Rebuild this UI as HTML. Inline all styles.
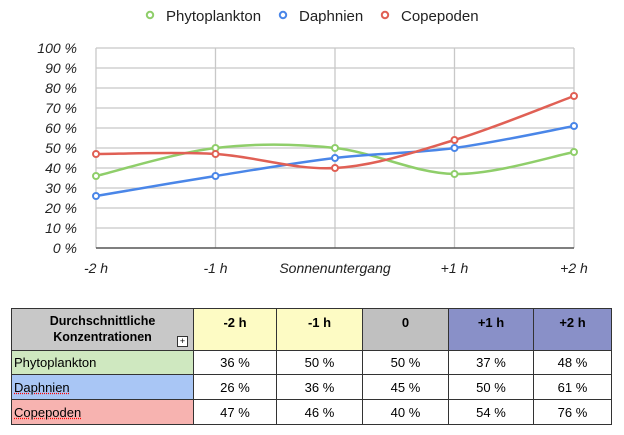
<!DOCTYPE html>
<html><head><style>
body{margin:0;width:624px;height:435px;background:#fff;font-family:"Liberation Sans",sans-serif;overflow:hidden}
table{position:absolute;left:11px;top:308px;border-collapse:collapse;font-size:13px}
td{border:1px solid #333;text-align:center;padding:0}
</style></head><body>
<svg width="624" height="300" style="position:absolute;left:0;top:0" font-family="Liberation Sans, sans-serif">
<g font-size="15" fill="#222">
<circle cx="150" cy="15" r="3.2" fill="#fff" stroke="#8fce6a" stroke-width="2"/><text x="166" y="21">Phytoplankton</text>
<circle cx="283" cy="15" r="3.2" fill="#fff" stroke="#4a86e8" stroke-width="2"/><text x="299" y="21">Daphnien</text>
<circle cx="385" cy="15" r="3.2" fill="#fff" stroke="#e06055" stroke-width="2"/><text x="401" y="21">Copepoden</text>
</g>
<g stroke="#c8c8c8" stroke-width="1.3">
<line x1="96" y1="48" x2="574" y2="48"/><line x1="96" y1="68" x2="574" y2="68"/><line x1="96" y1="88" x2="574" y2="88"/><line x1="96" y1="108" x2="574" y2="108"/><line x1="96" y1="128" x2="574" y2="128"/><line x1="96" y1="148" x2="574" y2="148"/><line x1="96" y1="168" x2="574" y2="168"/><line x1="96" y1="188" x2="574" y2="188"/><line x1="96" y1="208" x2="574" y2="208"/><line x1="96" y1="228" x2="574" y2="228"/>
<line x1="96" y1="48" x2="96" y2="248"/><line x1="215.5" y1="48" x2="215.5" y2="248"/><line x1="335" y1="48" x2="335" y2="248"/><line x1="454.5" y1="48" x2="454.5" y2="248"/><line x1="574" y1="48" x2="574" y2="248"/>
</g>
<line x1="96" y1="248" x2="574" y2="248" stroke="#555" stroke-width="1.5"/>
<g font-size="14" font-style="italic" fill="#222" text-anchor="end">
<text x="77" y="53">100 %</text><text x="77" y="73">90 %</text><text x="77" y="93">80 %</text><text x="77" y="113">70 %</text><text x="77" y="133">60 %</text><text x="77" y="153">50 %</text><text x="77" y="173">40 %</text><text x="77" y="193">30 %</text><text x="77" y="213">20 %</text><text x="77" y="233">10 %</text><text x="77" y="253">0 %</text>
</g>
<g font-size="14" font-style="italic" fill="#222" text-anchor="middle">
<text x="96" y="273">-2 h</text><text x="215.5" y="273">-1 h</text><text x="335" y="273">Sonnenuntergang</text><text x="454.5" y="273">+1 h</text><text x="574" y="273">+2 h</text>
</g>
<g fill="none" stroke-width="2.5">
<path stroke="#8fce6a" d="M96,176 C115.9,171.3 175.7,152.7 215.5,148 C255.3,143.3 295.2,143.7 335,148 C374.8,152.3 414.7,173.3 454.5,174 C494.3,174.7 554.1,155.7 574,152"/>
<path stroke="#4a86e8" d="M96,196 C115.9,192.7 175.7,182.3 215.5,176 C255.3,169.7 295.2,162.7 335,158 C374.8,153.3 414.7,153.3 454.5,148 C494.3,142.7 554.1,129.7 574,126"/>
<path stroke="#e06055" d="M96,154 C115.9,154 175.7,151.7 215.5,154 C255.3,156.3 295.2,170.3 335,168 C374.8,165.7 414.7,152 454.5,140 C494.3,128 554.1,103.3 574,96"/>
</g>
<g fill="#fff" stroke-width="2">
<g stroke="#8fce6a"><circle cx="96" cy="176" r="3"/><circle cx="215.5" cy="148" r="3"/><circle cx="335" cy="148" r="3"/><circle cx="454.5" cy="174" r="3"/><circle cx="574" cy="152" r="3"/></g>
<g stroke="#4a86e8"><circle cx="96" cy="196" r="3"/><circle cx="215.5" cy="176" r="3"/><circle cx="335" cy="158" r="3"/><circle cx="454.5" cy="148" r="3"/><circle cx="574" cy="126" r="3"/></g>
<g stroke="#e06055"><circle cx="96" cy="154" r="3"/><circle cx="215.5" cy="154" r="3"/><circle cx="335" cy="168" r="3"/><circle cx="454.5" cy="140" r="3"/><circle cx="574" cy="96" r="3"/></g>
</g>
</svg>
<table>
<tr style="height:42px;font-weight:bold;vertical-align:top">
<td style="width:181px;background:#c8c8c8;position:relative;padding-top:4px;line-height:16px;font-size:12.5px">Durchschnittliche<br>Konzentrationen<span style="position:absolute;right:5px;bottom:3px;width:9px;height:9px;border:1px solid #333;font-size:9px;line-height:9px;font-weight:normal;background:#fff">+</span></td>
<td style="width:82px;background:#fdfbc4;padding-top:6px">-2 h</td>
<td style="width:85px;background:#fdfbc4;padding-top:6px">-1 h</td>
<td style="width:85px;background:#c0c0c0;padding-top:6px">0</td>
<td style="width:84px;background:#8990c8;padding-top:6px">+1 h</td>
<td style="width:77px;background:#8990c8;padding-top:6px">+2 h</td>
</tr>
<tr style="height:24px"><td style="background:#cfe8c0;text-align:left;padding-left:2px">Phytoplankton</td><td>36 %</td><td>50 %</td><td>50 %</td><td>37 %</td><td>48 %</td></tr>
<tr style="height:25px"><td style="background:#a9c6f5;text-align:left;padding-left:2px"><u style="text-decoration:underline dotted red">Daphnien</u></td><td>26 %</td><td>36 %</td><td>45 %</td><td>50 %</td><td>61 %</td></tr>
<tr style="height:25px"><td style="background:#f7b3b0;text-align:left;padding-left:2px"><u style="text-decoration:underline dotted red">Copepoden</u></td><td>47 %</td><td>46 %</td><td>40 %</td><td>54 %</td><td>76 %</td></tr>
</table>
</body></html>
